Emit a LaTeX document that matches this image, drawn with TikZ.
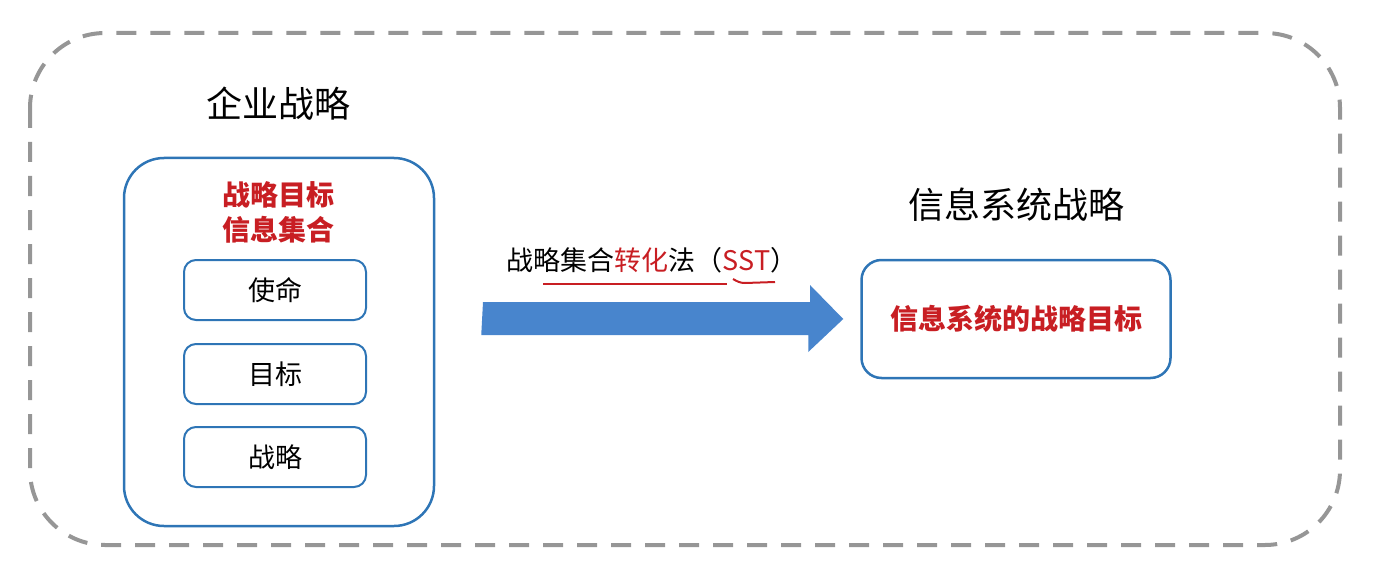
\documentclass[tikz,border=0pt]{standalone}
\usepackage{fontspec}
\setmainfont{Noto Sans CJK SC}
\usetikzlibrary{positioning}

\definecolor{boxblue}{RGB}{46,117,182}
\definecolor{arrowblue}{RGB}{72,133,205}
\definecolor{textred}{RGB}{200,30,35}
\definecolor{dashgray}{RGB}{150,150,150}

\tikzset{
  bigbox/.style={draw=boxblue, line width=2.5pt, rounded corners=40pt, inner sep=0pt},
  itembox/.style={draw=boxblue, line width=2pt, rounded corners=12pt,
    minimum width=182pt, minimum height=60pt, inner sep=0pt,
    font=\fontsize{27}{30}\selectfont},
  titletext/.style={font=\fontsize{36}{40}\selectfont},
  redtext/.style={text=textred, font=\fontsize{28}{35}\selectfont\bfseries}
}

\begin{document}
\begin{tikzpicture}[x=1pt,y=-1pt]

  \useasboundingbox (0,0) rectangle (1380,580);

  %% dashed frame
  \draw[dashgray, line width=4pt, dash pattern=on 20pt off 14pt, rounded corners=75pt]
  (30,33) rectangle (1340,545);

  %% left: corporate strategy
  \node[titletext] (corp) at (278,104) {企业战略};
  \node[bigbox, minimum width=310pt, minimum height=368pt] (corpbox) at (279,342) {};
  \node[redtext, align=center] (goalset) at (278,212) {战略目标\\信息集合};
  \node[itembox] (mission) at (275,290) {使命};
  \node[itembox] (goal) at (275,374) {目标};
  \node[itembox] (strat) at (275,457) {战略};

  %% right: IS strategy
  \node[titletext] (istitle) at (1016,205) {信息系统战略};
  \node[bigbox, rounded corners=20pt, minimum width=309pt, minimum height=118pt]
  (isbox) at (1016,319) {};
  \node[redtext] (isgoal) at (isbox) {信息系统的战略目标};

  %% big arrow
  \coordinate (arrowtail) at (483,318);
  \coordinate (arrowtip) at ([xshift=-17pt]isbox.west);
  \fill[arrowblue] (arrowtail) ++(0,-16) -- ++(327,0) -- ++(0,-17) -- (arrowtip)
  -- ++(-35,33) -- ++(0,-17) -- ++(-327,0) -- cycle;

  \node[font=\fontsize{27}{30}\selectfont] (sstlabel) at (652,260)
  {战略集合\textcolor{textred}{转化}法（\textcolor{textred}{SST}）};
  \draw[textred, line width=2pt] (543,284) -- (727,284);
  \draw[textred, line width=2pt] (733,279) to[out=-30,in=180] (745,283) -- (775,282);

\end{tikzpicture}
\end{document}
